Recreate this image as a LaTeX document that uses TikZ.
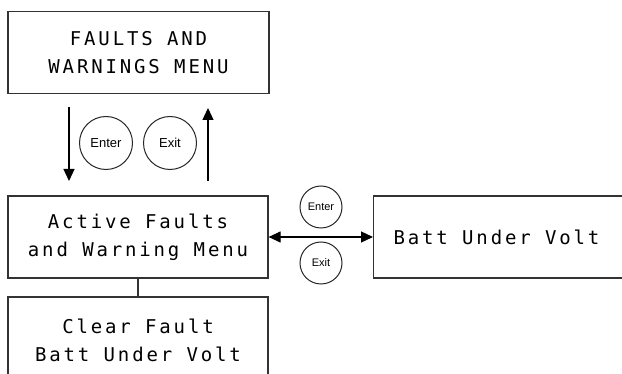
\documentclass[tikz,border=0pt]{standalone}
\usepackage{fontspec}
\usetikzlibrary{arrows.meta}
\newfontfamily\menufont[LetterSpace=15]{DejaVu Sans Mono}
\newfontfamily\keyfont{Liberation Sans}

\begin{document}
\begin{tikzpicture}[x=1pt,y=-1pt,
    menubox/.style={draw=black!80, line width=1.2pt, minimum height=82pt, inner sep=0pt,
      align=center, font=\menufont\fontsize{19}{28}\selectfont},
    keybtn/.style={circle, draw=black!85, line width=1pt, inner sep=0pt},
    flow/.style={line width=1.2pt, -{Triangle[length=12pt,width=11pt]}}]
  \clip (0,0) rectangle (622,374);

  % Menu screens
  \node[menubox, minimum width=261pt] (faults) at (138.5,52.5) {FAULTS AND\\WARNINGS MENU};
  \node[menubox, minimum width=260pt] (active) at (138,237) {Active Faults\\and Warning Menu};
  \node[menubox, minimum width=260pt, minimum height=86pt] (clear) at (138,340) {Clear Fault\\Batt Under Volt};
  \node[menubox, anchor=west, inner xsep=20pt] (batt) at (373,237) {\makebox[250pt][l]{Batt Under Volt}};

  % Keys between the top menus
  \node[keybtn, minimum size=53pt, font=\keyfont\fontsize{13}{13}\selectfont] (enterA) at (106,143) {Enter};
  \node[keybtn, minimum size=53pt, font=\keyfont\fontsize{13}{13}\selectfont] (exitA) at (170,143) {Exit};
  \coordinate (downtop) at (69,107);
  \coordinate (downend) at (69,181);
  \coordinate (upfoot) at (208,181);
  \coordinate (uptop) at (208,108);
  \draw[flow] (downtop) -- (downend);
  \draw[flow] (upfoot) -- (uptop);

  % Keys between the fault menus
  \node[keybtn, minimum size=42pt, font=\keyfont\fontsize{11}{11}\selectfont] (enterB) at (321,207) {Enter};
  \node[keybtn, minimum size=42pt, font=\keyfont\fontsize{11}{11}\selectfont] (exitB) at (321,263) {Exit};
  \draw[line width=1.2pt, {Triangle[length=12pt,width=11pt]}-{Triangle[length=12pt,width=11pt]}] (active.east) -- (batt.west);

  \draw[line width=1.2pt, black!80] (active.south) -- (clear.north);
\end{tikzpicture}
\end{document}
